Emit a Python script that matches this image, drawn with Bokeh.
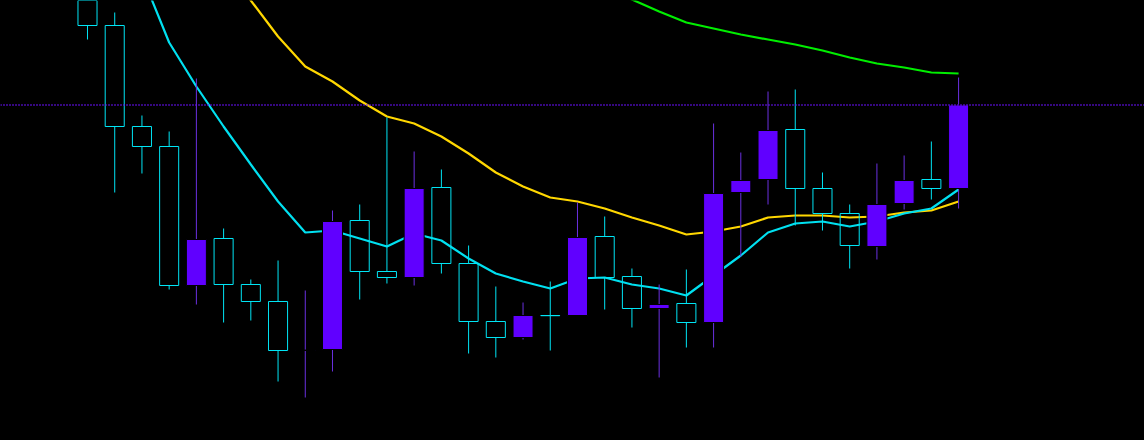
from bokeh.plotting import figure
from bokeh.models import ColumnDataSource, Range1d, Span, GlobalInlineStyleSheet
from bokeh.embed import file_html
from bokeh.resources import INLINE

# ---- data ----
opens = [2635.0, 2607.5, 2557.0, 2547.0, 2477.5, 2501.0, 2478.0, 2469.5, 2445.0, 2445.5,
         2510.0, 2484.5, 2481.5, 2526.5, 2488.5, 2459.5, 2451.5, 2462.5, 2462.5, 2502.0,
         2482.0, 2466.0, 2468.5, 2459.0, 2524.0, 2530.5, 2555.5, 2526.0, 2513.5, 2497.0,
         2518.5, 2530.5, 2526.0]
highs = [2642.5, 2614.0, 2562.5, 2554.5, 2581.0, 2506.0, 2480.5, 2490.0, 2475.0, 2515.0,
         2518.0, 2561.5, 2544.5, 2535.5, 2497.5, 2477.0, 2469.0, 2479.5, 2519.0, 2512.0,
         2486.0, 2478.0, 2485.5, 2558.5, 2544.0, 2574.5, 2575.5, 2534.0, 2518.0, 2538.5,
         2542.5, 2549.5, 2581.5]
lows = [2600.5, 2524.0, 2533.5, 2475.5, 2468.0, 2459.0, 2460.0, 2429.5, 2421.5, 2434.5,
        2470.5, 2478.5, 2477.5, 2483.5, 2443.5, 2441.5, 2450.5, 2445.0, 2462.5, 2465.5,
        2456.5, 2431.5, 2446.5, 2446.5, 2492.0, 2518.0, 2507.5, 2505.0, 2486.0, 2490.5,
        2515.5, 2520.5, 2516.0]
closes = [2607.5, 2557.0, 2547.0, 2477.5, 2500.5, 2478.0, 2469.5, 2445.0, 2445.2, 2509.5,
          2484.5, 2481.5, 2526.0, 2488.5, 2459.5, 2451.5, 2462.5, 2462.4, 2501.5, 2481.5,
          2466.0, 2468.0, 2459.0, 2523.5, 2530.0, 2555.0, 2526.0, 2513.5, 2497.5, 2518.0,
          2530.0, 2526.0, 2567.75]
ma_fast = [2700, 2665, 2632.5, 2599, 2577, 2557, 2538, 2519.5, 2504, 2505, 2501, 2497,
           2503.5, 2500, 2491, 2483.5, 2479.5, 2476, 2481, 2481.5, 2478, 2476, 2472.5,
           2482.5, 2492.5, 2504, 2508.5, 2509.5, 2507, 2509.5, 2513.5, 2516, 2525.5]
ma_mid = [2735, 2715, 2695, 2676, 2657.5, 2638.5, 2620, 2602, 2587, 2579.5, 2570, 2562,
          2558.5, 2552, 2543.5, 2534, 2527, 2521.5, 2519.5, 2516, 2511.5, 2507.5, 2503,
          2504.5, 2507, 2511.5, 2512.5, 2512.5, 2511.5, 2512, 2514, 2515, 2519.5]
ma_slow = [2760, 2752.5, 2745, 2737.5, 2730, 2722.5, 2715, 2707.5, 2700, 2692.5, 2685,
           2677.5, 2670, 2664, 2658, 2651, 2644, 2637.5, 2632, 2626, 2620.5, 2614.5, 2609,
           2606, 2603, 2600.5, 2598, 2595, 2591.5, 2588.5, 2586.5, 2584, 2583.5]

idx = list(range(len(opens)))

UP = "#6000ff"
DOWN = "#00e5f5"

up = [i for i in idx if closes[i] > opens[i]]
dn = [i for i in idx if closes[i] <= opens[i]]

up_src = ColumnDataSource(dict(
    x=up,
    top=[closes[i] for i in up], bottom=[opens[i] for i in up],
    hi=[highs[i] for i in up], lo=[lows[i] for i in up]))
dn_src = ColumnDataSource(dict(
    x=dn,
    top=[opens[i] for i in dn], bottom=[closes[i] for i in dn],
    hi=[highs[i] for i in dn], lo=[lows[i] for i in dn]))

W, H = 1144, 440
p = figure(width=W, height=H, output_backend="svg", toolbar_location=None,
           x_range=Range1d(-3.196, 38.83), y_range=Range1d(2400, 2620),
           background_fill_color="black", border_fill_color="black",
           min_border=0, outline_line_color=None)
p.axis.visible = False
p.grid.visible = False
p.stylesheets = [GlobalInlineStyleSheet(css="html,body{margin:0;padding:0;background:#000;overflow:hidden;}")]

# moving averages (behind candles)
p.line(idx, ma_slow, line_color="#00ee00", line_width=2.2)
p.line(idx, ma_mid, line_color="#ffd700", line_width=2.2)
p.line(idx, ma_fast, line_color="#00e0f0", line_width=2.2)

# last price line
p.add_layout(Span(location=closes[-1], dimension="width", line_color="#6a10ff",
                  line_width=2, line_dash="1 2"))

# wicks
p.segment(x0="x", y0="hi", x1="x", y1="lo", source=up_src, line_color="#6a30e0", line_width=1)
p.segment(x0="x", y0="hi", x1="x", y1="top", source=dn_src, line_color=DOWN, line_width=1)
p.segment(x0="x", y0="bottom", x1="x", y1="lo", source=dn_src, line_color=DOWN, line_width=1)

# bodies
p.vbar(x="x", top="top", bottom="bottom", width=0.735, source=up_src,
       fill_color=UP, line_color="black", line_width=1)
p.vbar(x="x", top="top", bottom="bottom", width=0.70, source=dn_src,
       fill_alpha=0, line_color=DOWN, line_width=1)

open("out.html", "w").write(file_html(p, INLINE))
